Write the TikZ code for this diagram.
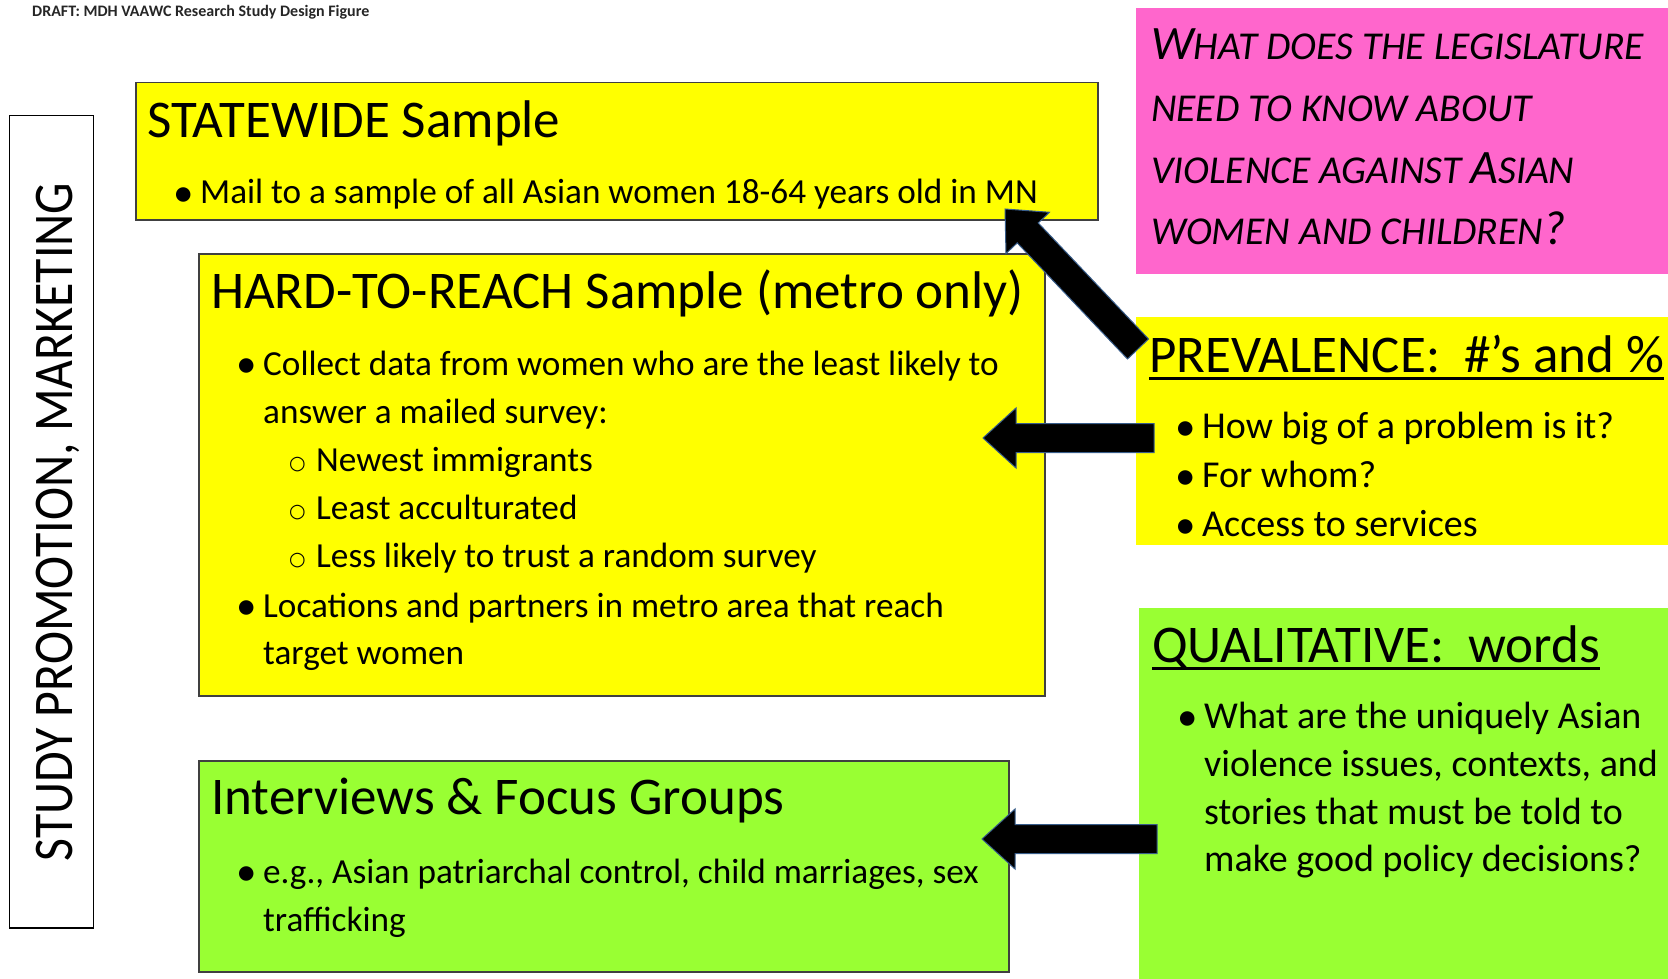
\documentclass[tikz,border=0pt]{standalone}
\usepackage{fontspec}
\setmainfont{Carlito}
\newfontfamily\circfont{DejaVu Sans}
\usetikzlibrary{calc}
\definecolor{boxyellow}{HTML}{FFFF00}
\definecolor{boxpink}{HTML}{FF66CC}
\definecolor{boxgreen}{HTML}{99FF33}
\definecolor{arrowedge}{HTML}{385D8A}
\tikzset{
  samplebox/.style={draw=black!75, line width=1.5pt, anchor=north west, inner sep=0pt},
  askbox/.style={anchor=north west, inner sep=0pt},
  headtxt/.style={anchor=base west, inner sep=0pt, font=\fontsize{53}{62}\selectfont},
  itemtxt/.style={anchor=base west, inner sep=0pt, font=\fontsize{35.2}{48}\selectfont},
  asktxt/.style={anchor=base west, inner sep=0pt, font=\fontsize{38}{48}\selectfont},
  legtxt/.style={anchor=base west, inner sep=0pt, font=\fontsize{48}{60}\selectfont\itshape},
  blockarrow/.style={fill=black, draw=arrowedge, line width=1pt, line join=miter},
}
\newcommand\bul{\makebox[24pt][l]{\hspace{-3pt}\raisebox{-2.5pt}{\fontsize{41}{41}\selectfont •}}}
\newcommand\subbul{\makebox[24pt][l]{\hspace{-3pt}\raisebox{1.5pt}{\circfont\fontsize{19}{19}\selectfont ○}}}
\newcommand\smc[1]{{\fontsize{39.5}{60}\selectfont #1}}
% block arrow from tail #1 to tip #2
\newcommand\drawblockarrow[2]{%
  \coordinate (hb) at ($(#2)!33pt!(#1)$);
  \draw[blockarrow] ($(#1)!14.5pt!90:(#2)$) -- ($(hb)!14.5pt!90:(#2)$) -- ($(hb)!30pt!90:(#2)$) -- (#2)
    -- ($(hb)!30pt!-90:(#2)$) -- ($(hb)!14.5pt!-90:(#2)$) -- ($(#1)!14.5pt!-90:(#2)$) -- cycle;}
\begin{document}
\begin{tikzpicture}[x=1pt, y=-1pt]
  \useasboundingbox (0,0) rectangle (1668,979);

  % Drawing title line
  \node[anchor=base west, inner sep=0pt, font=\fontsize{16}{18}\selectfont\bfseries, text=black!85] (draft) at (32,17) {DRAFT: MDH VAAWC Research Study Design Figure};

  % Drawing side box
  \node[draw=black, line width=1.5pt, fill=white, anchor=north west, inner sep=0pt, minimum width=84pt, minimum height=812pt] (promobox) at (8.5,115) {};
  \node[rotate=90, anchor=base, inner sep=0pt, font=\fontsize{56}{60}\selectfont] (promo) at (72,522) {\scalebox{0.89}[1]{STUDY PROMOTION, MARKETING}};

  % Drawing box statewide
  \node[samplebox, fill=boxyellow, minimum width=962pt, minimum height=137pt] (statewide) at (135,82) {};
  \node[headtxt] (statehead) at (147,138) {STATEWIDE Sample};
  \node[itemtxt] (state1) at (176,204) {\bul Mail to a sample of all Asian women 18-64 years old in MN};

  % Drawing box hard-to-reach
  \node[samplebox, fill=boxyellow, minimum width=846pt, minimum height=442pt] (hard) at (198,253) {};
  \node[headtxt] (hardhead) at (211,308.5) {HARD-TO-REACH Sample (metro only)};
  \node[itemtxt] (hard1) at (239,375) {\bul Collect data from women who are the least likely to};
  \node[itemtxt] (hard2) at (263,423) {answer a mailed survey:};
  \node[itemtxt] (hard3) at (292,471) {\subbul Newest immigrants};
  \node[itemtxt] (hard4) at (292,519) {\subbul Least acculturated};
  \node[itemtxt] (hard5) at (292,567) {\subbul Less likely to trust a random survey};
  \node[itemtxt] (hard6) at (239,617) {\bul Locations and partners in metro area that reach};
  \node[itemtxt] (hard7) at (263,664) {target women};

  % Drawing box interviews
  \node[samplebox, fill=boxgreen, minimum width=810pt, minimum height=211pt] (inter) at (198,760) {};
  \node[headtxt] (interhead) at (211,814) {Interviews \& Focus Groups};
  \node[itemtxt] (inter1) at (239,883) {\bul e.g., Asian patriarchal control, child marriages, sex};
  \node[itemtxt] (inter2) at (263,931) {trafficking};

  % Drawing question box
  \node[askbox, fill=boxpink, minimum width=534pt, minimum height=266pt] (legis) at (1136,7.4) {};
  \node[legtxt] (legis1) at (1151,59.6) {W\smc{HAT DOES THE LEGISLATURE}};
  \node[legtxt] (legis2) at (1151,121.3) {\smc{NEED TO KNOW ABOUT}};
  \node[legtxt] (legis3) at (1151,183) {\smc{VIOLENCE AGAINST }A\smc{SIAN}};
  \node[legtxt] (legis4) at (1151,244.7) {\smc{WOMEN AND CHILDREN}?};

  % Drawing box prevalence
  \node[askbox, fill=boxyellow, minimum width=534pt, minimum height=228pt] (prev) at (1136,317) {};
  \node[headtxt] (prevhead) at (1149,372) {PREVALENCE:\ \ \#’s and \%};
  \draw[line width=3pt] ([yshift=-6pt]prevhead.base west) -- ([yshift=-6pt]prevhead.base east);
  \node[asktxt] (prev1) at (1178,438) {\bul How big of a problem is it?};
  \node[asktxt] (prev2) at (1178,487) {\bul For whom?};
  \node[asktxt] (prev3) at (1178,536) {\bul Access to services};

  % Drawing box qualitative
  \node[askbox, fill=boxgreen, minimum width=531pt, minimum height=373pt] (qual) at (1139,608) {};
  \node[headtxt] (qualhead) at (1152,662) {QUALITATIVE:\ \ words};
  \draw[line width=3pt] ([yshift=-6pt]qualhead.base west) -- ([yshift=-6pt]qualhead.base east);
  \node[asktxt] (qual1) at (1180,728) {\bul What are the uniquely Asian};
  \node[asktxt] (qual2) at (1204,776) {violence issues, contexts, and};
  \node[asktxt] (qual3) at (1204,824) {stories that must be told to};
  \node[asktxt] (qual4) at (1204,871) {make good policy decisions?};

  % Drawing arrows
  \coordinate (prevtail) at (1138,349);
  \coordinate (statetip) at (1005,209);
  \coordinate (prevmid) at (1154,438);
  \coordinate (hardtip) at (983,438);
  \coordinate (qualmid) at (1157,839);
  \coordinate (intertip) at (982,839);
  \drawblockarrow{prevtail}{statetip}
  \drawblockarrow{prevmid}{hardtip}
  \drawblockarrow{qualmid}{intertip}
\end{tikzpicture}
\end{document}
